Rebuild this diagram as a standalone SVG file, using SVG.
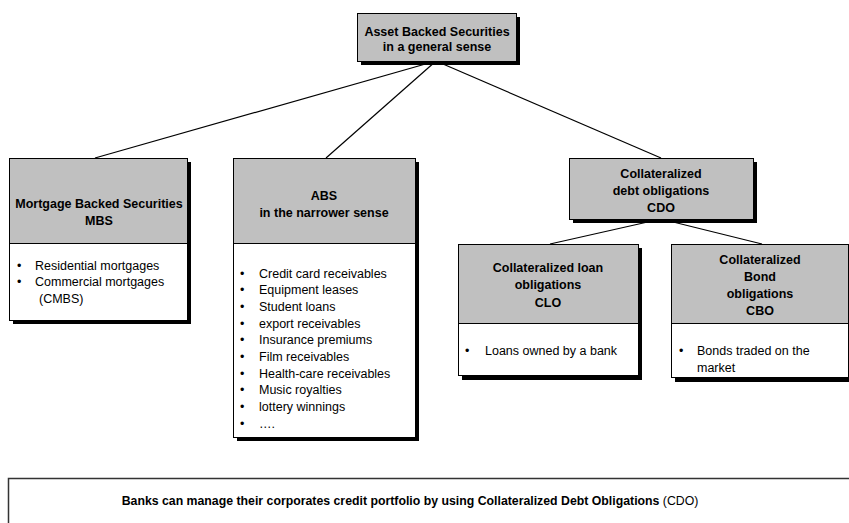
<svg xmlns="http://www.w3.org/2000/svg" width="849" height="523" viewBox="0 0 849 523">
<style>
text{font-family:"Liberation Sans",Arial,Helvetica,sans-serif;fill:#000}
.t{font-size:12.5px;font-weight:bold;text-anchor:middle}
.b{font-size:12.5px}
.sh{fill:#000}
.hd{fill:#c0c0c0;stroke:#000;stroke-width:1}
.bd{fill:#fff;stroke:#000;stroke-width:1}
.cn line{stroke:#000;stroke-width:1.2}
.note{font-size:12.3px;text-anchor:middle}
</style>
<rect width="849" height="523" fill="#fff"/>
<g id="connectors" class="cn">
<line x1="436" y1="61" x2="95" y2="158"/>
<line x1="436" y1="61" x2="326" y2="158"/>
<line x1="436" y1="61" x2="661" y2="158"/>
<line x1="661" y1="219" x2="550" y2="244"/>
<line x1="661" y1="219" x2="762" y2="244"/>
</g>
<g id="abs-general">
<rect class="sh" x="361" y="17" width="159" height="48"/>
<rect class="hd" x="357.5" y="13.5" width="159" height="48"/>
<text class="t" x="437" y="35.5">Asset Backed Securities</text>
<text class="t" x="437" y="51">in a general sense</text>
</g>
<g id="mbs">
<rect class="sh" x="13" y="162" width="178" height="162"/>
<rect class="hd" x="9.5" y="158.5" width="178" height="85"/>
<rect class="bd" x="9.5" y="243.5" width="178" height="77"/>
<text class="t" x="99" y="207.5">Mortgage Backed Securities</text>
<text class="t" x="99" y="224.5">MBS</text>
<text class="b" x="17" y="269.5">•</text><text class="b" x="35" y="269.5">Residential mortgages</text>
<text class="b" x="17" y="286">•</text><text class="b" x="35" y="286">Commercial mortgages</text>
<text class="b" x="39" y="302.5">(CMBS)</text>
</g>
<g id="abs-narrow">
<rect class="sh" x="237" y="162" width="182" height="279"/>
<rect class="hd" x="233.5" y="158.5" width="182" height="85"/>
<rect class="bd" x="233.5" y="243.5" width="182" height="194"/>
<text class="t" x="324" y="199.5">ABS</text>
<text class="t" x="324" y="216.5">in the narrower sense</text>
<g class="b">
<text x="240" y="277.5">•</text><text x="259" y="277.5">Credit card receivables</text>
<text x="240" y="294.2">•</text><text x="259" y="294.2">Equipment leases</text>
<text x="240" y="310.9">•</text><text x="259" y="310.9">Student loans</text>
<text x="240" y="327.6">•</text><text x="259" y="327.6">export receivables</text>
<text x="240" y="344.3">•</text><text x="259" y="344.3">Insurance premiums</text>
<text x="240" y="361">•</text><text x="259" y="361">Film receivables</text>
<text x="240" y="377.7">•</text><text x="259" y="377.7">Health-care receivables</text>
<text x="240" y="394.4">•</text><text x="259" y="394.4">Music royalties</text>
<text x="240" y="411.1">•</text><text x="259" y="411.1">lottery winnings</text>
<text x="240" y="427.8">•</text><text x="259" y="427.8">….</text>
</g>
</g>
<g id="cdo">
<rect class="sh" x="573" y="162" width="184" height="61"/>
<rect class="hd" x="569.5" y="158.5" width="184" height="61"/>
<text class="t" x="661" y="177.5">Collateralized</text>
<text class="t" x="661" y="195">debt obligations</text>
<text class="t" x="661" y="212">CDO</text>
</g>
<g id="clo">
<rect class="sh" x="462" y="248" width="180" height="132"/>
<rect class="hd" x="458.5" y="244.5" width="180" height="79"/>
<rect class="bd" x="458.5" y="323.5" width="180" height="52"/>
<text class="t" x="548" y="271.5">Collateralized loan</text>
<text class="t" x="548" y="289">obligations</text>
<text class="t" x="548" y="306.5">CLO</text>
<text class="b" x="465" y="354.5">•</text><text class="b" x="485" y="354.5">Loans owned by a bank</text>
</g>
<g id="cbo">
<rect class="sh" x="675" y="248" width="178" height="134"/>
<rect class="hd" x="671.5" y="244.5" width="177" height="79"/>
<rect class="bd" x="671.5" y="323.5" width="177" height="54"/>
<text class="t" x="760" y="263.5">Collateralized</text>
<text class="t" x="760" y="280.5">Bond</text>
<text class="t" x="760" y="298">obligations</text>
<text class="t" x="760" y="315">CBO</text>
<text class="b" x="679" y="354.5">•</text><text class="b" x="697" y="354.5">Bonds traded on the</text>
<text class="b" x="697" y="372">market</text>
</g>
<g id="note">
<rect x="8.5" y="478.5" width="850" height="60" fill="#fff" stroke="#333" stroke-width="1.5"/>
<text class="note" x="410" y="504.5"><tspan font-weight="bold">Banks can manage their corporates credit portfolio by using Collateralized Debt Obligations</tspan> (CDO)</text>
</g>
</svg>
